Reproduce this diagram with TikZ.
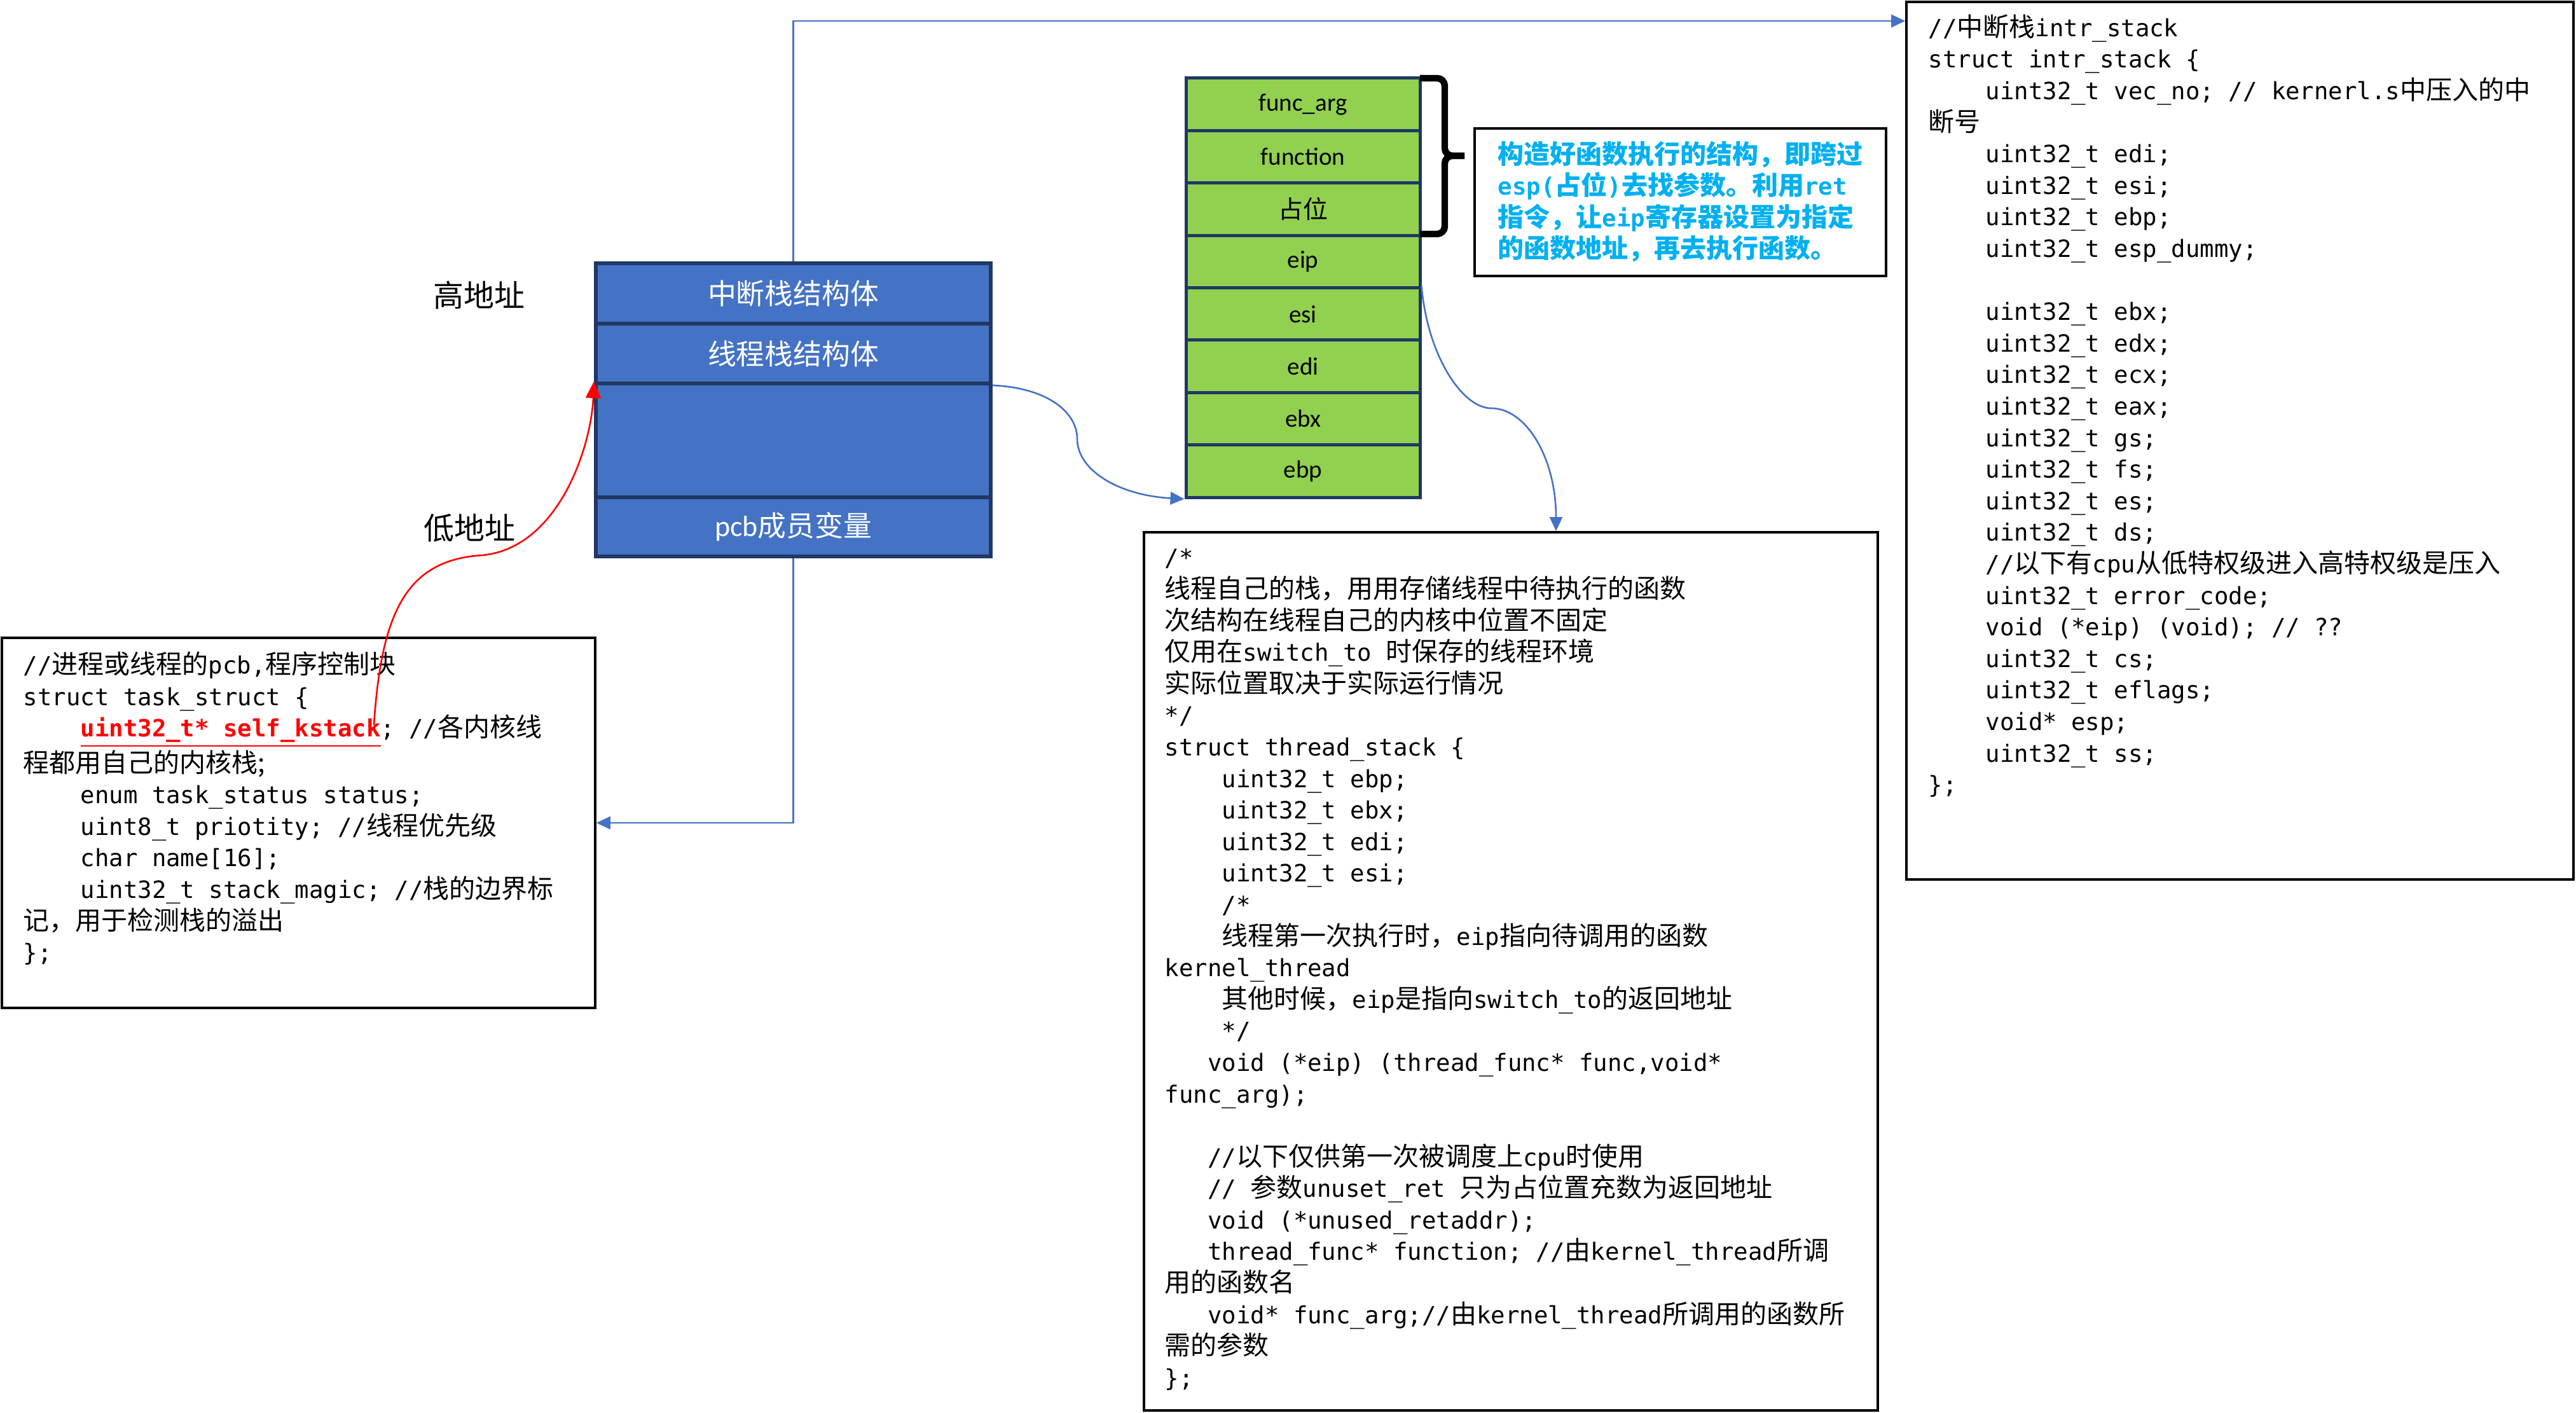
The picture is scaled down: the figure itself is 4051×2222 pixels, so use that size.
\documentclass[tikz,border=0pt]{standalone}
\usepackage{fontspec}
\usetikzlibrary{arrows.meta,calc}
\newfontfamily\cjk{Noto Sans CJK SC}
\newfontfamily\mono{DejaVu Sans Mono}
\newfontfamily\carl{Carlito}
\definecolor{stackblue}{HTML}{4472C4}
\definecolor{navy}{HTML}{203864}
\definecolor{leaf}{HTML}{92D050}
\definecolor{cyantext}{HTML}{00B0F0}
\definecolor{conn}{HTML}{4472C4}
\newlength\chw \setlength\chw{5.617pt}
\newcommand\ind[1]{\hspace*{#1\chw}}
\newcommand\zh[1]{{\cjk\fontsize{10.25pt}{12.4pt}\selectfont #1}}
\begin{document}
\begin{tikzpicture}[x=0.25pt,y=-0.25pt,
  bcell/.style={draw=navy, line width=1.5pt, fill=stackblue, minimum width=155.25pt, inner sep=0, text=white, font=\cjk\fontsize{11.2pt}{13pt}\selectfont},
  gcell/.style={draw=navy, line width=1.25pt, fill=leaf, minimum width=92pt, minimum height=20.6pt, inner sep=0, font=\carl\fontsize{9.75pt}{11pt}\selectfont},
  codebox/.style={draw=black, line width=0.9pt, inner sep=0},
  codetext/.style={anchor=north west, inner sep=0, align=left, font=\mono\fontsize{9.33pt}{12.4pt}\selectfont},
  bconn/.style={draw=conn, line width=0.65pt, -{Triangle[length=5.5pt,width=5pt]}},
  rconn/.style={draw=red, line width=0.65pt, -{Triangle[length=6.5pt,width=6pt]}},
  bracestyle/.style={draw=black, line width=2.6pt, rounded corners=3pt},
  addr/.style={font=\cjk\fontsize{12pt}{14pt}\selectfont}
]
\useasboundingbox (0,0) rectangle (4051,2222);

% blue stack (pcb page)
\node[bcell, minimum height=23.75pt] (isr) at (1247.5,461.5) {中断栈结构体};
\node[bcell, minimum height=23.5pt] (tsc) at (1247.5,556) {线程栈结构体};
\node[bcell, minimum height=44.75pt] (emp) at (1247.5,692.5) {};
\node[bcell, minimum height=23.25pt] (pcbm) at (1247.5,828.5) {{\carl\fontsize{11.5pt}{13pt}\selectfont pcb}成员变量};

\node[addr] (hi) at (753,464) {高地址};
\node[addr] (lo) at (738,830) {低地址};

% green stack
\node[gcell] (farg) at (2049,164.2) {func\_arg};
\node[gcell] (func) at (2049,246.6) {function};
\node[gcell] (zw) at (2049,329) {{\cjk\fontsize{9.75pt}{11pt}\selectfont 占位}};
\node[gcell] (eip) at (2049,411.4) {eip};
\node[gcell] (esi) at (2049,493.8) {esi};
\node[gcell] (edi) at (2049,576.2) {edi};
\node[gcell] (ebx) at (2049,658.6) {ebx};
\node[gcell] (ebp) at (2049,741) {ebp};

% brace
\draw[bracestyle] (2233,123) -- (2272,123) -- (2272,245) -- (2303,245);
\draw[bracestyle] (2303,245) -- (2272,245) -- (2272,368) -- (2233,368);

% callout
\node[draw=black, line width=1.1pt, minimum width=161.75pt, minimum height=58pt, inner sep=0] (note) at (2642.5,318) {};
\node[anchor=north west, inner sep=0, align=left, text=cyantext, font=\mono\bfseries\fontsize{9.33pt}{12.4pt}\selectfont] (notetext) at (2355,221) {\rule{0pt}{8pt}\zh{构造好函数执行的结构，即跨过}\\
esp(\zh{占位})\zh{去找参数。利用}ret\\
\zh{指令，让}eip\zh{寄存器设置为指定}\\
\zh{的函数地址，再去执行函数。}};

% pcb code box
\node[codebox, minimum width=233.25pt, minimum height=145.5pt] (pcb) at (469.5,1294) {};
\node[codetext] (pcbtext) at (36,1024) {\rule{0pt}{8pt}//\zh{进程或线程的}pcb,\zh{程序控制块}\\
struct task\_struct \{\\
\ind{4}\textcolor{red}{\underline{\bfseries uint32\_t* self\_kstack}}; //\zh{各内核线}\\
\zh{程都用自己的内核栈;}\\
\ind{4}enum task\_status status;\\
\ind{4}uint8\_t priotity; //\zh{线程优先级}\\
\ind{4}char name[16];\\
\ind{4}uint32\_t stack\_magic; //\zh{栈的边界标}\\
\zh{记，用于检测栈的溢出}\\
\};};
\coordinate (ks) at (588,1140);

% thread_stack code box
\node[codebox, minimum width=288.5pt, minimum height=345.25pt] (ts) at (2376,1527.5) {};
\node[codetext] (tstext) at (1831,858) {\rule{0pt}{8pt}/*\\
\zh{线程自己的栈，用用存储线程中待执行的函数}\\
\zh{次结构在线程自己的内核中位置不固定}\\
\zh{仅用在}switch\_to \zh{时保存的线程环境}\\
\zh{实际位置取决于实际运行情况}\\
*/\\
struct thread\_stack \{\\
\ind{4}uint32\_t ebp;\\
\ind{4}uint32\_t ebx;\\
\ind{4}uint32\_t edi;\\
\ind{4}uint32\_t esi;\\
\ind{4}/*\\
\ind{4}\zh{线程第一次执行时，}eip\zh{指向待调用的函数}\\
kernel\_thread\\
\ind{4}\zh{其他时候，}eip\zh{是指向}switch\_to\zh{的返回地址}\\
\ind{4}*/\\
\ind{3}void (*eip) (thread\_func* func,void*\\
func\_arg);\\
\mbox{}\\
\ind{3}//\zh{以下仅供第一次被调度上}cpu\zh{时使用}\\
\ind{3}// \zh{参数}unuset\_ret \zh{只为占位置充数为返回地址}\\
\ind{3}void (*unused\_retaddr);\\
\ind{3}thread\_func* function; //\zh{由}kernel\_thread\zh{所调}\\
\zh{用的函数名}\\
\ind{3}void* func\_arg;//\zh{由}kernel\_thread\zh{所调用的函数所}\\
\zh{需的参数}\\
\};};

% intr_stack code box
\node[codebox, minimum width=262.25pt, minimum height=345pt] (is) at (3522.5,693) {};
\node[codetext] (istext) at (3032,22) {\rule{0pt}{8pt}//\zh{中断栈}intr\_stack\\
struct intr\_stack \{\\
\ind{4}uint32\_t vec\_no; // kernerl.s\zh{中压入的中}\\
\zh{断号}\\
\ind{4}uint32\_t edi;\\
\ind{4}uint32\_t esi;\\
\ind{4}uint32\_t ebp;\\
\ind{4}uint32\_t esp\_dummy;\\
\mbox{}\\
\ind{4}uint32\_t ebx;\\
\ind{4}uint32\_t edx;\\
\ind{4}uint32\_t ecx;\\
\ind{4}uint32\_t eax;\\
\ind{4}uint32\_t gs;\\
\ind{4}uint32\_t fs;\\
\ind{4}uint32\_t es;\\
\ind{4}uint32\_t ds;\\
\ind{4}//\zh{以下有}cpu\zh{从低特权级进入高特权级是压入}\\
\ind{4}uint32\_t error\_code;\\
\ind{4}void (*eip) (void); // ??\\
\ind{4}uint32\_t cs;\\
\ind{4}uint32\_t eflags;\\
\ind{4}void* esp;\\
\ind{4}uint32\_t ss;\\
\};};

% connectors
\coordinate (tophook) at (2000,33);
\draw[bconn] (isr.north) |- (is.west |- tophook);
\draw[bconn] (pcbm.south) |- (pcb.east);
\draw[bconn] (tsc.south east) .. controls (1650,610) and (1694,650) .. (1694,690) .. controls (1694,740) and (1760,779) .. (ebp.south west);
\draw[bconn] (esi.north east) .. controls (2245,560) and (2300,642) .. (2345,642) .. controls (2400,642) and (2447,720) .. ($(ts.north)+(71,0)$);
\draw[rconn] (ks) .. controls (600,960) and (640,880) .. (760,873) .. controls (880,860) and (930,700) .. (emp.north west);
\end{tikzpicture}
\end{document}
